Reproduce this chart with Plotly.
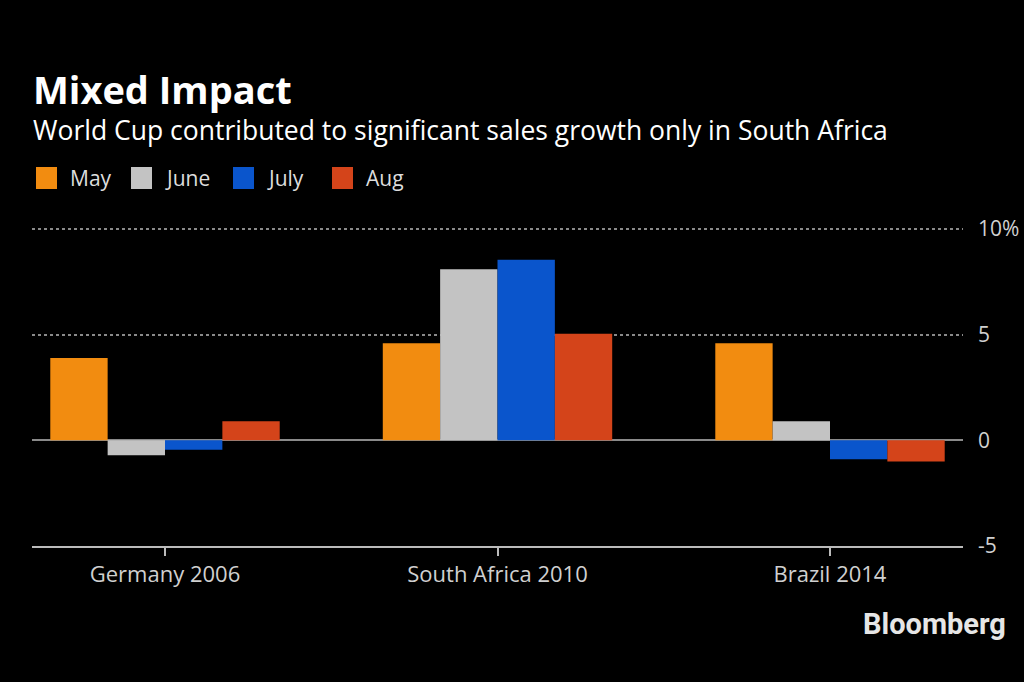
import plotly.graph_objects as go

categories = ["Germany 2006", "South Africa 2010", "Brazil 2014"]
months = ["May", "June", "July", "Aug"]
may = [3.9, 4.6, 4.6]
june = [-0.7, 8.1, 0.9]
july = [-0.45, 8.55, -0.9]
aug = [0.9, 5.05, -1.0]
colors = ["#f28c10", "#c3c3c3", "#0a55cc", "#d4441a"]
y_ticks = [-5, 0, 5, 10]
y_tick_text = ["-5", "0", "5", "10%"]

series = [may, june, july, aug]
x_idx = list(range(len(categories)))

fig = go.Figure()
for name, vals, col in zip(months, series, colors):
    fig.add_trace(go.Bar(x=x_idx, y=vals, name=name, marker_color=col,
                         marker_line_width=0, showlegend=False))

W, H = 1024, 682
L, R, T, B = 32, 963, 228, 546

def px(x):
    return (x - L) / (R - L)

def py(y):
    return (B - y) / (B - T)

font_family = "Open Sans, Noto Sans, DejaVu Sans, sans-serif"
ann = []
shapes = []
ann.append(dict(text="<b>Mixed Impact</b>", x=px(31), y=py(89), xref="paper", yref="paper",
                xanchor="left", yanchor="middle", showarrow=False,
                font=dict(size=38, color="white", family=font_family)))
ann.append(dict(text="World Cup contributed to significant sales growth only in South Africa",
                x=px(31), y=py(130), xref="paper", yref="paper",
                xanchor="left", yanchor="middle", showarrow=False,
                font=dict(size=26.5, color="white", family=font_family)))

leg_sq_x = [36, 131, 233, 332]
for name, col, sx in zip(months, colors, leg_sq_x):
    shapes.append(dict(type="rect", xref="paper", yref="paper",
                       x0=px(sx), x1=px(sx + 21), y0=py(189), y1=py(167),
                       fillcolor=col, line=dict(width=0)))
    ann.append(dict(text=name, x=px(sx + 32), y=py(178), xref="paper", yref="paper",
                    xanchor="left", yanchor="middle", showarrow=False,
                    font=dict(size=21, color="#dddddd", family=font_family)))

ann.append(dict(text="<b>Bloomberg</b>", x=px(1008), y=py(624), xref="paper", yref="paper",
                xanchor="right", yanchor="middle", showarrow=False,
                font=dict(size=29, color="#e6e6e6", family="Roboto, Liberation Sans, sans-serif")))

fig.update_layout(
    width=W, height=H,
    paper_bgcolor="black", plot_bgcolor="black",
    margin=dict(l=L, r=W - R, t=T, b=H - B, autoexpand=False),
    barmode="group", bargap=0.31, bargroupgap=0,
    showlegend=False,
    annotations=ann, shapes=shapes,
    font=dict(family=font_family, color="#d0d0d0"),
)
fig.update_xaxes(
    tickmode="array", tickvals=x_idx, ticktext=categories,
    range=[-0.4, 2.4], showgrid=False, zeroline=False, automargin=False,
    showline=True, linecolor="#bbbbbb", linewidth=1.5,
    ticks="outside", ticklen=8, tickcolor="#bbbbbb", tickwidth=1.5,
    tickfont=dict(size=22, color="#d0d0d0"),
)
fig.update_yaxes(
    side="right", range=[-5, 10.05], tickmode="array", tickvals=y_ticks, ticktext=y_tick_text,
    showgrid=True, gridcolor="#8a8a8a", griddash="dot", gridwidth=1.5,
    zeroline=True, zerolinecolor="#8a8a8a", zerolinewidth=1.5, automargin=False,
    showline=False, ticks="", ticklabelstandoff=14,
    tickfont=dict(size=21, color="#d0d0d0"),
)

fig.write_html("out.html", config={"displayModeBar": False},
               post_script="document.body.style.margin='0';document.body.style.background='black';")
